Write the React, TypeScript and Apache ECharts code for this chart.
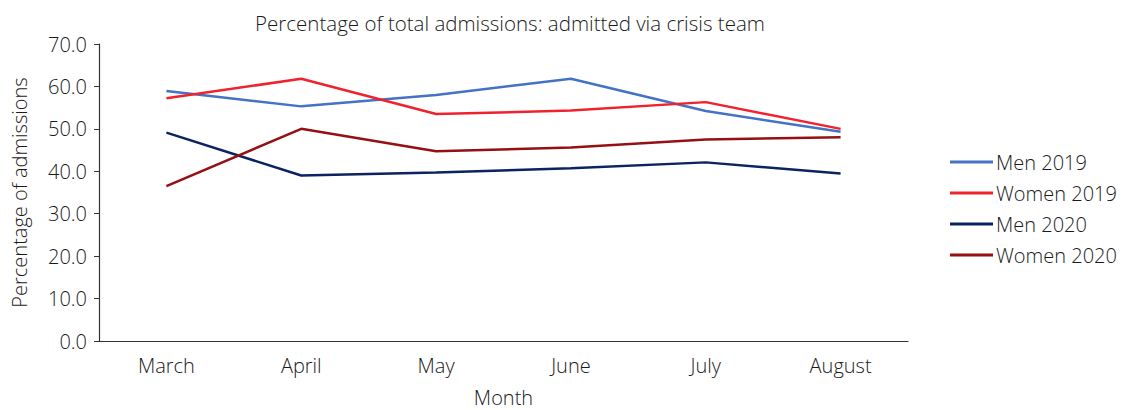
import React, { useEffect, useRef } from "react";
import * as echarts from "echarts";

const months = ["March", "April", "May", "June", "July", "August"];
const yTicks = [0, 10, 20, 30, 40, 50, 60, 70];
const men2019 = [58.9, 55.3, 58.0, 61.8, 54.2, 49.3];
const women2019 = [57.2, 61.8, 53.5, 54.3, 56.3, 50.0];
const men2020 = [49.1, 39.0, 39.7, 40.7, 42.1, 39.5];
const women2020 = [36.5, 50.0, 44.7, 45.6, 47.5, 48.0];

const FONT = "Open Sans";
const FW = 300;
const TXT = "#1a1a1a";

export default function App() {
  const ref = useRef<HTMLDivElement>(null);
  useEffect(() => {
    if (!ref.current) return;
    const chart = echarts.init(ref.current, null, { renderer: "svg" });
    const mk = (name: string, data: number[], color: string) => ({
      name,
      type: "line",
      data,
      symbol: "none",
      lineStyle: { color, width: 2.5 },
      itemStyle: { color },
    });
    chart.setOption({
      animation: false,
      backgroundColor: "#fff",
      textStyle: { fontFamily: FONT, fontWeight: FW },
      title: {
        text: "Percentage of total admissions: admitted via crisis team",
        left: 505,
        textAlign: "center",
        top: 7,
        textStyle: { fontFamily: FONT, fontSize: 20.5, fontWeight: FW, color: TXT },
      },
      legend: {
        orient: "vertical",
        left: 945,
        top: 147,
        itemWidth: 43,
        itemHeight: 3,
        itemGap: 11,
        icon: "rect",
        textStyle: { fontFamily: FONT, fontSize: 20, fontWeight: FW, color: TXT, padding: [0, 0, 0, -2] },
        data: ["Men 2019", "Women 2019", "Men 2020", "Women 2020"],
      },
      grid: { left: 99, right: 213, top: 44, bottom: 69, containLabel: false, outerBoundsMode: "none" },
      xAxis: {
        type: "category",
        data: months,
        boundaryGap: true,
        name: "Month",
        nameLocation: "middle",
        nameGap: 46,
        nameTextStyle: { fontFamily: FONT, fontSize: 20, fontWeight: FW, color: TXT, lineHeight: 20 },
        axisLine: { lineStyle: { color: "#333", width: 1.2 } },
        axisTick: { alignWithLabel: true, length: 5, lineStyle: { color: "#333" } },
        axisLabel: { fontFamily: FONT, fontSize: 20, fontWeight: FW, color: TXT, margin: 14 },
        splitLine: { show: false },
      },
      yAxis: {
        type: "value",
        min: yTicks[0],
        max: yTicks[yTicks.length - 1],
        interval: 10,
        name: "Percentage of admissions",
        nameLocation: "middle",
        nameRotate: 90,
        nameGap: 70,
        nameTextStyle: { fontFamily: FONT, fontSize: 20, fontWeight: FW, color: TXT },
        axisLine: { show: true, lineStyle: { color: "#333", width: 1.2 } },
        axisTick: { show: true, length: 5, lineStyle: { color: "#333" } },
        axisLabel: {
          fontFamily: FONT,
          fontSize: 20,
          fontWeight: FW,
          color: TXT,
          margin: 12,
          formatter: (v: number) => v.toFixed(1),
        },
        splitLine: { show: false },
      },
      series: [
        mk("Men 2019", men2019, "#4472C4"),
        mk("Women 2019", women2019, "#F0222D"),
        mk("Men 2020", men2020, "#0B2361"),
        mk("Women 2020", women2020, "#951015"),
      ],
    });
    return () => chart.dispose();
  }, []);
  return <div ref={ref} style={{ width: 1121, height: 410, position: "absolute", left: 0, top: 0 }} />;
}
